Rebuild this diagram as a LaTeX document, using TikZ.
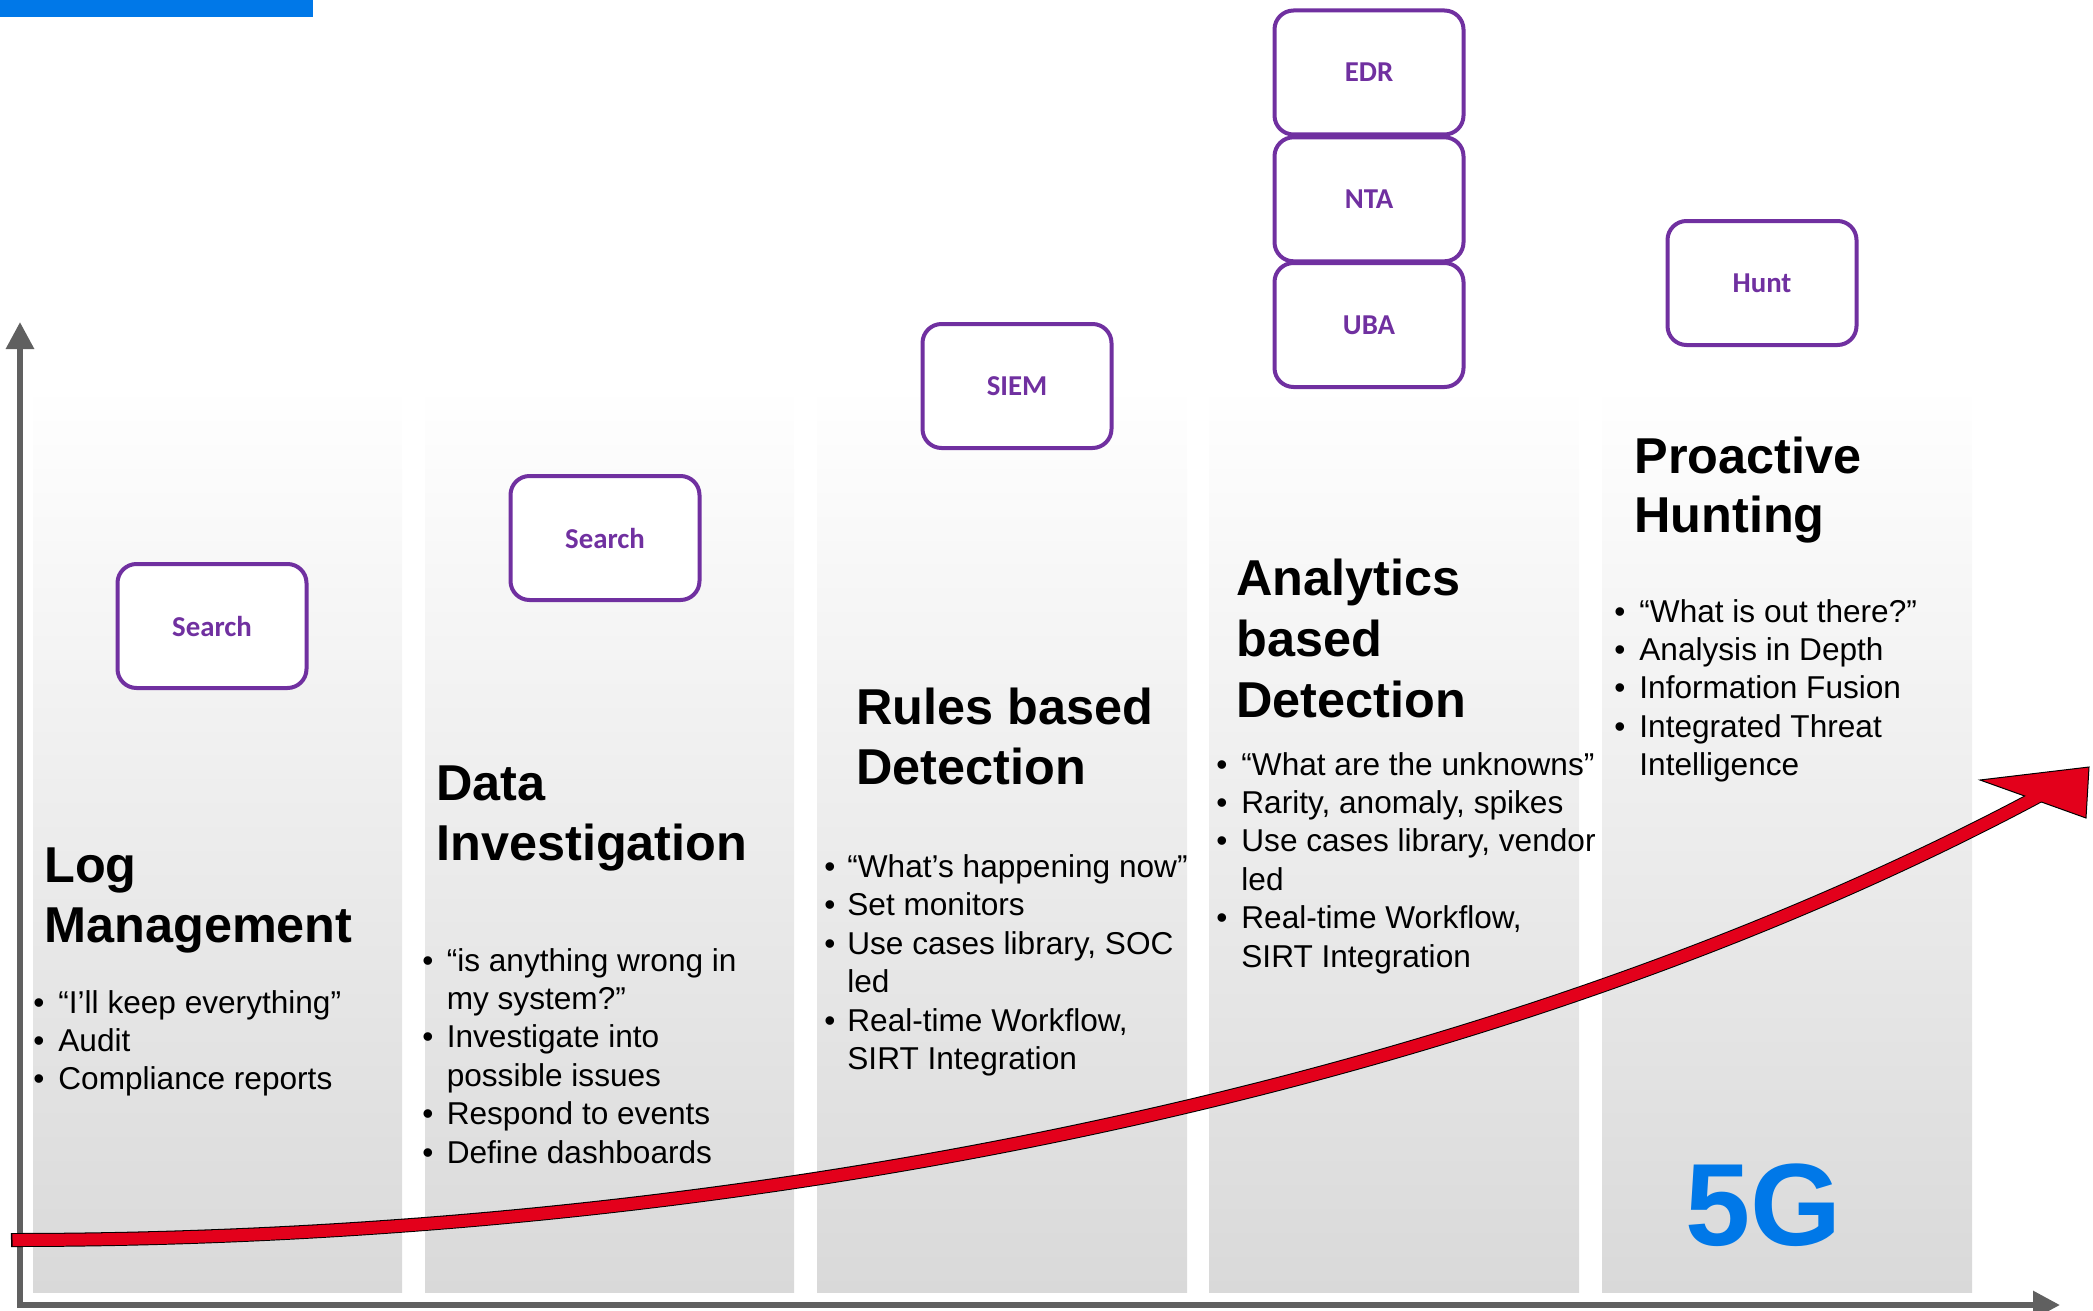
\documentclass[tikz,border=0pt]{standalone}
\usepackage{fontspec}
\setmainfont{Liberation Sans}
\newfontfamily\calibfont{Carlito}
\usetikzlibrary{arrows.meta}
\definecolor{barblue}{RGB}{0,120,232}
\definecolor{boxpurple}{RGB}{112,48,160}
\definecolor{colgray}{RGB}{217,217,217}
\definecolor{axisgray}{RGB}{96,96,96}
\definecolor{curvered}{RGB}{227,0,27}
\newlength\bind
\newcommand{\bl}[1]{\hbox{\makebox[\bind][l]{•}#1}}
\newcommand{\cl}[1]{\hbox{\hspace*{\bind}#1}}
\newcommand{\tl}[1]{\hbox{#1}}
\begin{document}
\begin{tikzpicture}[x=0.5pt,y=-0.5pt,
  colbox/.style={top color=white,bottom color=colgray,draw=none},
  toolbox/.style={draw=boxpurple,line width=2pt,rounded corners=9.5pt,fill=white,
    minimum width=94.5pt,minimum height=62pt,inner sep=0pt,text=boxpurple,
    font=\calibfont\bfseries\fontsize{14.4pt}{17pt}\selectfont},
  titletext/.style={anchor=base west,inner sep=0pt,font=\bfseries\fontsize{25.2pt}{30pt}\selectfont},
  bodytext/.style={anchor=base west,inner sep=0pt,font=\fontsize{15.8pt}{19pt}\selectfont},
  axisline/.style={draw=axisgray,line width=3pt,line join=miter},
]
\useasboundingbox (0,0) rectangle (2093,1311);
% blue bar
\fill[barblue] (0,0) rectangle (313,17);
% columns
\shade[colbox] (33,385) rectangle (402,1292);
\shade[colbox] (425,385) rectangle (794,1292);
\shade[colbox] (817,385) rectangle (1187,1292);
\shade[colbox] (1209,385) rectangle (1579,1292);
\shade[colbox] (1602,385) rectangle (1972,1292);
% axes
\coordinate (ytip) at (20,322);
\coordinate (corner) at (20,1305);
\coordinate (xtip) at (2060,1305);
\draw[axisline,{Triangle[length=13.5pt,width=13.5pt]}-{Triangle[length=13.5pt,width=13.5pt]}] (ytip) -- (corner) -- (xtip);
% red growth curve
\coordinate (c0) at (11,1240);
\coordinate (c0b) at (12.5,1240);
\coordinate (c1) at (760,1240);
\coordinate (c2) at (1500,1082);
\coordinate (c3) at (2033,799);
\coordinate (c4) at (2040,795.2);
\coordinate (h1) at (1980,780);
\coordinate (h2) at (2089,767);
\coordinate (h3) at (2086,818);
\draw[line width=7pt,black] (c0) .. controls (c1) and (c2) .. (c3) -- (c4);
\filldraw[fill=curvered,draw=black,line width=0.5pt,line join=miter] (h1) -- (h2) -- (h3) -- cycle;
\draw[line width=6pt,curvered] (c0b) .. controls (c1) and (c2) .. (c3) -- (c4);
% tool boxes
\node[toolbox] (s1) at (212,626) {Search};
\node[toolbox] (s2) at (605,538) {Search};
\node[toolbox] (siem) at (1017,386) {SIEM};
\node[toolbox] (edr) at (1369,72.5) {EDR};
\node[toolbox] (nta) at (1369,199.3) {NTA};
\node[toolbox] (uba) at (1369,325) {UBA};
\node[toolbox] (hunt) at (1762,283) {Hunt};
% titles
\node[titletext] (t1) at (44,882) {\vtop{\baselineskip=30pt \tl{Log}\tl{Management}}};
\node[titletext] (t2) at (436,800) {\vtop{\baselineskip=30pt \tl{Data}\tl{Investigation}}};
\node[titletext] (t3) at (856,724) {\vtop{\baselineskip=30pt \tl{Rules based}\tl{Detection}}};
\node[titletext] (t4) at (1236,595) {\vtop{\baselineskip=30.5pt \tl{Analytics}\tl{based}\tl{Detection}}};
\node[titletext] (t5) at (1634,473) {\vtop{\baselineskip=29.8pt \tl{Proactive}\tl{Hunting}}};
% bullet lists
\node[bodytext] (b1) at (33,1013) {\setlength\bind{12.5pt}\vtop{\baselineskip=19pt
  \bl{“I’ll keep everything”}\bl{Audit}\bl{Compliance reports}}};
\node[bodytext] (b2) at (422,971) {\setlength\bind{12.2pt}\vtop{\baselineskip=19.2pt
  \bl{“is anything wrong in}\cl{my system?”}\bl{Investigate into}\cl{possible issues}\bl{Respond to events}\bl{Define dashboards}}};
\node[bodytext] (b3) at (824,877.5) {\setlength\bind{11.5pt}\vtop{\baselineskip=19.2pt
  \bl{“What’s happening now”}\bl{Set monitors}\bl{Use cases library, SOC}\cl{led}\bl{Real-time Workflow,}\cl{SIRT Integration}}};
\node[bodytext] (b4) at (1216,775) {\setlength\bind{12.5pt}\vtop{\baselineskip=19.2pt
  \bl{“What are the unknowns”}\bl{Rarity, anomaly, spikes}\bl{Use cases library, vendor}\cl{led}\bl{Real-time Workflow,}\cl{SIRT Integration}}};
\node[bodytext] (b5) at (1614,622) {\setlength\bind{12.5pt}\vtop{\baselineskip=19.2pt
  \bl{“What is out there?”}\bl{Analysis in Depth}\bl{Information Fusion}\bl{Integrated Threat}\cl{Intelligence}}};
% 5G
\node[anchor=base west,inner sep=0pt,text=barblue,font=\bfseries\fontsize{58.5pt}{62pt}\selectfont] (fiveg) at (1685,1245) {5G};
\end{tikzpicture}
\end{document}
